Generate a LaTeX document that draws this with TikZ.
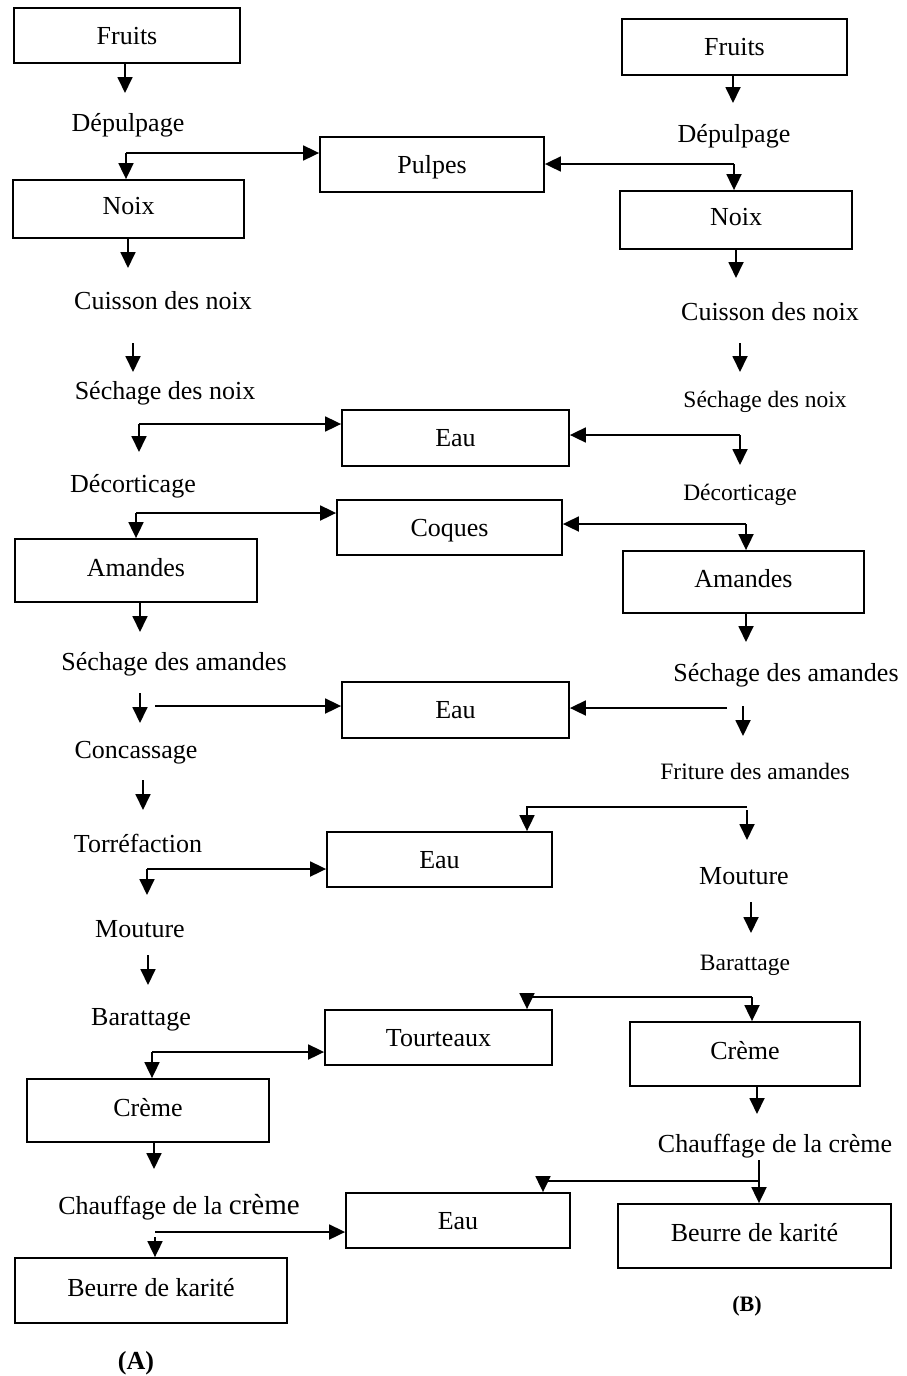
\documentclass[tikz,border=0pt]{standalone}
\usepackage{fontspec}
\setmainfont{Liberation Serif}
\usetikzlibrary{arrows.meta}
\newcommand\fsz[1]{\fontsize{#1}{#1}\selectfont}
\tikzset{
  box/.style={draw, line width=1.8pt, inner sep=0pt, font=\fsz{26}, text height=17pt, text depth=0pt},
  up/.style={text depth=6pt},
  lbl/.style={inner sep=0pt, font=\fsz{26}, yshift=-3pt},
  sm/.style={font=\fsz{23.5}},
  arr/.style={line width=1.8pt, -{Triangle[length=16pt,width=15pt]}},
  ln/.style={line width=1.8pt},
}
\begin{document}
\begin{tikzpicture}[x=1pt,y=-1pt]
\useasboundingbox[fill=white] (0,0) rectangle (906,1376);
% ---------- column A ----------
\node[box, minimum width=226pt, minimum height=55pt] (fA) at (127,35.5) {Fruits};
\node[lbl] (depA) at (128,122) {Dépulpage};
\node[box, minimum width=224pt, minimum height=55pt] (pul) at (432,164.5) {Pulpes};
\node[box, up, minimum width=231pt, minimum height=58pt] (noixA) at (128.5,209) {Noix};
\node[lbl] (cuiA) at (163,298) {Cuisson des noix};
\node[lbl] (sechA) at (165,390) {Séchage des noix};
\node[box, minimum width=227pt, minimum height=56pt] (eau1) at (455.5,438) {Eau};
\node[lbl] (decA) at (133,483) {Décorticage};
\node[box, minimum width=225pt, minimum height=55pt] (coq) at (449.5,527.5) {Coques};
\node[box, up, minimum width=242pt, minimum height=63pt] (amA) at (136,570.5) {Amandes};
\node[lbl] (secamA) at (174,661) {Séchage des amandes};
\node[box, minimum width=227pt, minimum height=56pt] (eau2) at (455.5,710) {Eau};
\node[lbl] (conA) at (136,750) {Concassage};
\node[lbl] (torA) at (138,840) {Torréfaction};
\node[box, minimum width=225pt, minimum height=55pt] (eau3) at (439.5,859.5) {Eau};
\node[lbl] (mouA) at (140,926) {Mouture};
\node[lbl] (barA) at (141,1017) {Barattage};
\node[box, minimum width=227pt, minimum height=55pt] (tour) at (438.5,1037.5) {Tourteaux};
\node[box, up, minimum width=242pt, minimum height=63pt] (crA) at (148,1110.5) {Crème};
\node[lbl] (chA) at (179,1204) {Chauffage de la {\fsz{29}crème}};
\node[box, minimum width=224pt, minimum height=55pt] (eau4) at (458,1220.5) {Eau};
\node[box, up, minimum width=272pt, minimum height=65pt] (beA) at (151,1290.5) {Beurre de karité};
\node[lbl, font=\fsz{26}\bfseries] (labA) at (136,1360) {(A)};
% ---------- column B ----------
\node[box, minimum width=225pt, minimum height=56pt] (fB) at (734.5,47) {Fruits};
\node[lbl] (depB) at (734,133) {Dépulpage};
\node[box, up, minimum width=232pt, minimum height=58pt] (noixB) at (736,220) {Noix};
\node[lbl] (cuiB) at (770,309) {Cuisson des noix};
\node[lbl, sm] (sechB) at (765,399) {Séchage des noix};
\node[lbl, sm] (decB) at (740,492) {Décorticage};
\node[box, up, minimum width=241pt, minimum height=62pt] (amB) at (743.5,582) {Amandes};
\node[lbl] (secamB) at (786,672) {Séchage des amandes};
\node[lbl, sm] (fritB) at (755,768) {Friture des amandes};
\node[lbl] (mouB) at (744,873) {Mouture};
\node[lbl, sm] (barB) at (745,962) {Barattage};
\node[box, up, minimum width=230pt, minimum height=64pt] (crB) at (745,1054) {Crème};
\node[lbl] (chB) at (775,1143) {Chauffage de la crème};
\node[box, up, minimum width=273pt, minimum height=64pt] (beB) at (754.5,1236) {Beurre de karité};
\node[lbl, font=\fsz{22}\bfseries] (labB) at (747,1303) {(B)};
% ---------- connectors A ----------
\coordinate (a1) at (125,93);
\draw[arr] (fA.south -| a1) -- (a1);
\coordinate (sA1) at (126,153);
\draw[arr] (sA1) -- (noixA.north -| sA1);
\draw[arr] (sA1) -- (pul.west |- sA1);
\coordinate (a2) at (128,268);
\draw[arr] (noixA.south -| a2) -- (a2);
\coordinate (a3s) at (133,343); \coordinate (a3) at (133,372);
\draw[arr] (a3s) -- (a3);
\coordinate (sA2) at (139,424); \coordinate (a4) at (139,452);
\draw[arr] (sA2) -- (a4);
\draw[arr] (sA2) -- (eau1.west |- sA2);
\coordinate (sA3) at (136,513);
\draw[arr] (sA3) -- (amA.north -| sA3);
\draw[arr] (sA3) -- (coq.west |- sA3);
\coordinate (a5) at (140,632);
\draw[arr] (amA.south -| a5) -- (a5);
\coordinate (a6s) at (140,693); \coordinate (a6) at (140,723);
\draw[arr] (a6s) -- (a6);
\coordinate (h1) at (155,706);
\draw[arr] (h1) -- (eau2.west |- h1);
\coordinate (a7s) at (143,780); \coordinate (a7) at (143,810);
\draw[arr] (a7s) -- (a7);
\coordinate (sA4) at (147,869); \coordinate (a8) at (147,895);
\draw[arr] (sA4) -- (a8);
\draw[arr] (sA4) -- (eau3.west |- sA4);
\coordinate (a9s) at (148,955); \coordinate (a9) at (148,985);
\draw[arr] (a9s) -- (a9);
\coordinate (sA5) at (152,1052);
\draw[arr] (sA5) -- (crA.north -| sA5);
\draw[arr] (sA5) -- (tour.west |- sA5);
\coordinate (a10) at (154,1169);
\draw[arr] (crA.south -| a10) -- (a10);
\coordinate (sA6) at (155,1232); \coordinate (v6) at (155,1237);
\draw[arr] (sA6) -- (eau4.west |- sA6);
\draw[arr] (v6) -- (beA.north -| v6);
% ---------- connectors B ----------
\coordinate (b1) at (733,103);
\draw[arr] (fB.south -| b1) -- (b1);
\coordinate (sB1) at (734,164);
\draw[arr] (sB1) -- (noixB.north -| sB1);
\draw[arr] (sB1) -- (pul.east |- sB1);
\coordinate (b2) at (736,278);
\draw[arr] (noixB.south -| b2) -- (b2);
\coordinate (b3s) at (740,343); \coordinate (b3) at (740,372);
\draw[arr] (b3s) -- (b3);
\coordinate (sB2) at (740,435); \coordinate (b4) at (740,465);
\draw[arr] (sB2) -- (b4);
\draw[arr] (sB2) -- (eau1.east |- sB2);
\coordinate (sB3) at (746,524);
\draw[arr] (sB3) -- (amB.north -| sB3);
\draw[arr] (sB3) -- (coq.east |- sB3);
\coordinate (b5) at (746,642);
\draw[arr] (amB.south -| b5) -- (b5);
\coordinate (h2) at (727,708);
\draw[arr] (h2) -- (eau2.east |- h2);
\coordinate (b6s) at (743,706); \coordinate (b6) at (743,736);
\draw[arr] (b6s) -- (b6);
\coordinate (sB4) at (747,807); \coordinate (c4) at (527,807);
\draw[arr] (sB4) -- (c4) -- (eau3.north -| c4);
\coordinate (b7s) at (747,810); \coordinate (b7) at (747,840);
\draw[arr] (b7s) -- (b7);
\coordinate (b8s) at (751,902); \coordinate (b8) at (751,933);
\draw[arr] (b8s) -- (b8);
\coordinate (sB5) at (752,997); \coordinate (c5) at (527,997);
\draw[arr] (sB5) -- (crB.north -| sB5);
\draw[arr] (sB5) -- (c5) -- (tour.north -| c5);
\coordinate (b9) at (757,1114);
\draw[arr] (crB.south -| b9) -- (b9);
\coordinate (sB6) at (758,1181); \coordinate (c6) at (543,1181);
\draw[arr] (sB6) -- (c6) -- (eau4.north -| c6);
\coordinate (b10s) at (759,1160);
\draw[arr] (b10s) -- (beB.north -| b10s);
\end{tikzpicture}
\end{document}
